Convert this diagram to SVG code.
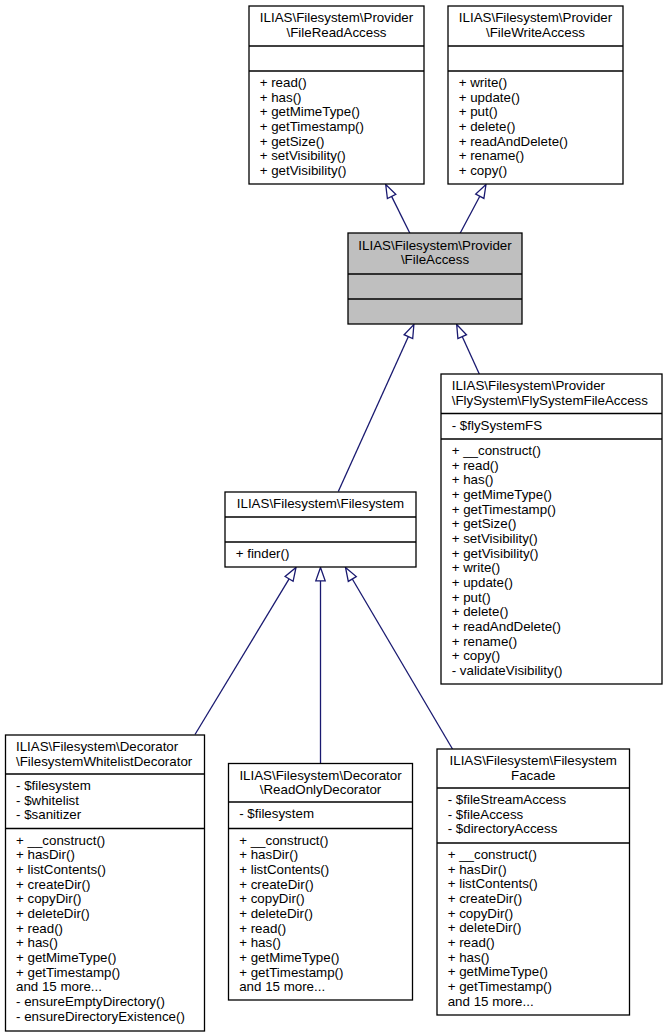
<svg xmlns="http://www.w3.org/2000/svg" width="667" height="1036" viewBox="0 0 667 1036">
<style>
.box{fill:#ffffff;stroke:#000000;stroke-width:1.3}
.cur{fill:#bfbfbf;stroke:#000000;stroke-width:1.3}
.div{stroke:#000000;stroke-width:1.3}
text{font-family:"Liberation Sans",Arial,Helvetica,sans-serif;font-size:13.33px;fill:#000000}
.c{text-anchor:middle}
.edge{stroke:#191970;stroke-width:1.3;fill:none}
.head{stroke:#191970;stroke-width:1.3;fill:#ffffff}
</style>
<rect x="0" y="0" width="667" height="1036" fill="#ffffff"/>

<g id="connectors">
<line class="edge" x1="410" y1="233.5" x2="391.6" y2="196.4"/>
<polygon class="head" points="385.7,184.5 395.8,194.3 387.4,198.5"/>
<line class="edge" x1="460" y1="233.5" x2="479.8" y2="196.2"/>
<polygon class="head" points="486,184.5 483.9,198.4 475.7,194"/>
<line class="edge" x1="338.3" y1="491.5" x2="408.4" y2="336.6"/>
<polygon class="head" points="413.9,324.5 412.7,338.5 404.1,334.7"/>
<line class="edge" x1="479.3" y1="374" x2="462.2" y2="336.6"/>
<polygon class="head" points="456.7,324.5 466.5,334.7 457.9,338.5"/>
<line class="edge" x1="195" y1="734.5" x2="289.1" y2="578.9"/>
<polygon class="head" points="296,567.5 293.1,581.3 285.1,576.5"/>
<line class="edge" x1="320.5" y1="763.5" x2="320.5" y2="580.8"/>
<polygon class="head" points="320.5,567.5 325.2,580.8 315.8,580.8"/>
<line class="edge" x1="452.5" y1="749" x2="352.3" y2="579"/>
<polygon class="head" points="345.5,567.5 356.3,576.6 348.3,581.4"/>
</g>

<g id="FileReadAccess">
<rect class="box" x="249" y="6" width="175" height="178"/>
<line class="div" x1="249" y1="46" x2="424" y2="46"/>
<line class="div" x1="249" y1="71" x2="424" y2="71"/>
<text class="c" x="336.5" y="22">ILIAS\Filesystem\Provider</text>
<text class="c" x="336.5" y="36.7">\FileReadAccess</text>
<text x="259.7" y="87">+ read()</text>
<text x="259.7" y="101.7">+ has()</text>
<text x="259.7" y="116.3">+ getMimeType()</text>
<text x="259.7" y="131">+ getTimestamp()</text>
<text x="259.7" y="145.7">+ getSize()</text>
<text x="259.7" y="160.3">+ setVisibility()</text>
<text x="259.7" y="175">+ getVisibility()</text>
</g>

<g id="FileWriteAccess">
<rect class="box" x="448" y="6" width="175" height="178"/>
<line class="div" x1="448" y1="46" x2="623" y2="46"/>
<line class="div" x1="448" y1="71" x2="623" y2="71"/>
<text class="c" x="535.5" y="22">ILIAS\Filesystem\Provider</text>
<text class="c" x="535.5" y="36.7">\FileWriteAccess</text>
<text x="458.7" y="87">+ write()</text>
<text x="458.7" y="101.7">+ update()</text>
<text x="458.7" y="116.3">+ put()</text>
<text x="458.7" y="131">+ delete()</text>
<text x="458.7" y="145.7">+ readAndDelete()</text>
<text x="458.7" y="160.3">+ rename()</text>
<text x="458.7" y="175">+ copy()</text>
</g>

<g id="FileAccess">
<rect class="cur" x="348" y="233" width="174" height="91"/>
<line class="div" x1="348" y1="274" x2="522" y2="274"/>
<line class="div" x1="348" y1="299" x2="522" y2="299"/>
<text class="c" x="435" y="249.5">ILIAS\Filesystem\Provider</text>
<text class="c" x="435" y="264.2">\FileAccess</text>
</g>

<g id="FlySystemFileAccess">
<rect class="box" x="441" y="374" width="221" height="310"/>
<line class="div" x1="441" y1="413.5" x2="662" y2="413.5"/>
<line class="div" x1="441" y1="439" x2="662" y2="439"/>
<text x="451.7" y="390">ILIAS\Filesystem\Provider</text>
<text x="451.7" y="404.7">\FlySystem\FlySystemFileAccess</text>
<text x="451.7" y="429.5">- $flySystemFS</text>
<text x="451.7" y="455">+ __construct()</text>
<text x="451.7" y="469.7">+ read()</text>
<text x="451.7" y="484.3">+ has()</text>
<text x="451.7" y="499">+ getMimeType()</text>
<text x="451.7" y="513.7">+ getTimestamp()</text>
<text x="451.7" y="528.3">+ getSize()</text>
<text x="451.7" y="543">+ setVisibility()</text>
<text x="451.7" y="557.7">+ getVisibility()</text>
<text x="451.7" y="572.3">+ write()</text>
<text x="451.7" y="587">+ update()</text>
<text x="451.7" y="601.7">+ put()</text>
<text x="451.7" y="616.3">+ delete()</text>
<text x="451.7" y="631">+ readAndDelete()</text>
<text x="451.7" y="645.7">+ rename()</text>
<text x="451.7" y="660.3">+ copy()</text>
<text x="451.7" y="675">- validateVisibility()</text>
</g>

<g id="Filesystem">
<rect class="box" x="225" y="492" width="191" height="75"/>
<line class="div" x1="225" y1="517" x2="416" y2="517"/>
<line class="div" x1="225" y1="542" x2="416" y2="542"/>
<text class="c" x="320.5" y="508">ILIAS\Filesystem\Filesystem</text>
<text x="235.7" y="558">+ finder()</text>
</g>

<g id="FilesystemWhitelistDecorator">
<rect class="box" x="5.5" y="735" width="199" height="296"/>
<line class="div" x1="5.5" y1="774" x2="204.5" y2="774"/>
<line class="div" x1="5.5" y1="828.5" x2="204.5" y2="828.5"/>
<text x="16" y="751">ILIAS\Filesystem\Decorator</text>
<text x="16" y="765.7">\FilesystemWhitelistDecorator</text>
<text x="16" y="790">- $filesystem</text>
<text x="16" y="804.7">- $whitelist</text>
<text x="16" y="819.3">- $sanitizer</text>
<text x="16" y="844.5">+ __construct()</text>
<text x="16" y="859.2">+ hasDir()</text>
<text x="16" y="873.8">+ listContents()</text>
<text x="16" y="888.5">+ createDir()</text>
<text x="16" y="903.2">+ copyDir()</text>
<text x="16" y="917.8">+ deleteDir()</text>
<text x="16" y="932.5">+ read()</text>
<text x="16" y="947.2">+ has()</text>
<text x="16" y="961.8">+ getMimeType()</text>
<text x="16" y="976.5">+ getTimestamp()</text>
<text x="16" y="991.2">and 15 more...</text>
<text x="16" y="1005.8">- ensureEmptyDirectory()</text>
<text x="16" y="1020.5">- ensureDirectoryExistence()</text>
</g>

<g id="ReadOnlyDecorator">
<rect class="box" x="228.5" y="763.5" width="184" height="236.5"/>
<line class="div" x1="228.5" y1="802" x2="412.5" y2="802"/>
<line class="div" x1="228.5" y1="828.5" x2="412.5" y2="828.5"/>
<text class="c" x="320.5" y="779.5">ILIAS\Filesystem\Decorator</text>
<text class="c" x="320.5" y="794.2">\ReadOnlyDecorator</text>
<text x="239.2" y="818">- $filesystem</text>
<text x="239.2" y="844.5">+ __construct()</text>
<text x="239.2" y="859.2">+ hasDir()</text>
<text x="239.2" y="873.8">+ listContents()</text>
<text x="239.2" y="888.5">+ createDir()</text>
<text x="239.2" y="903.2">+ copyDir()</text>
<text x="239.2" y="917.8">+ deleteDir()</text>
<text x="239.2" y="932.5">+ read()</text>
<text x="239.2" y="947.2">+ has()</text>
<text x="239.2" y="961.8">+ getMimeType()</text>
<text x="239.2" y="976.5">+ getTimestamp()</text>
<text x="239.2" y="991.2">and 15 more...</text>
</g>

<g id="FilesystemFacade">
<rect class="box" x="437" y="749" width="192.5" height="266"/>
<line class="div" x1="437" y1="788" x2="629.5" y2="788"/>
<line class="div" x1="437" y1="843" x2="629.5" y2="843"/>
<text class="c" x="533.25" y="765">ILIAS\Filesystem\Filesystem</text>
<text class="c" x="533.25" y="779.7">Facade</text>
<text x="447.7" y="804">- $fileStreamAccess</text>
<text x="447.7" y="818.7">- $fileAccess</text>
<text x="447.7" y="833.3">- $directoryAccess</text>
<text x="447.7" y="859">+ __construct()</text>
<text x="447.7" y="873.7">+ hasDir()</text>
<text x="447.7" y="888.3">+ listContents()</text>
<text x="447.7" y="903">+ createDir()</text>
<text x="447.7" y="917.7">+ copyDir()</text>
<text x="447.7" y="932.3">+ deleteDir()</text>
<text x="447.7" y="947">+ read()</text>
<text x="447.7" y="961.7">+ has()</text>
<text x="447.7" y="976.3">+ getMimeType()</text>
<text x="447.7" y="991">+ getTimestamp()</text>
<text x="447.7" y="1005.7">and 15 more...</text>
</g>
</svg>
